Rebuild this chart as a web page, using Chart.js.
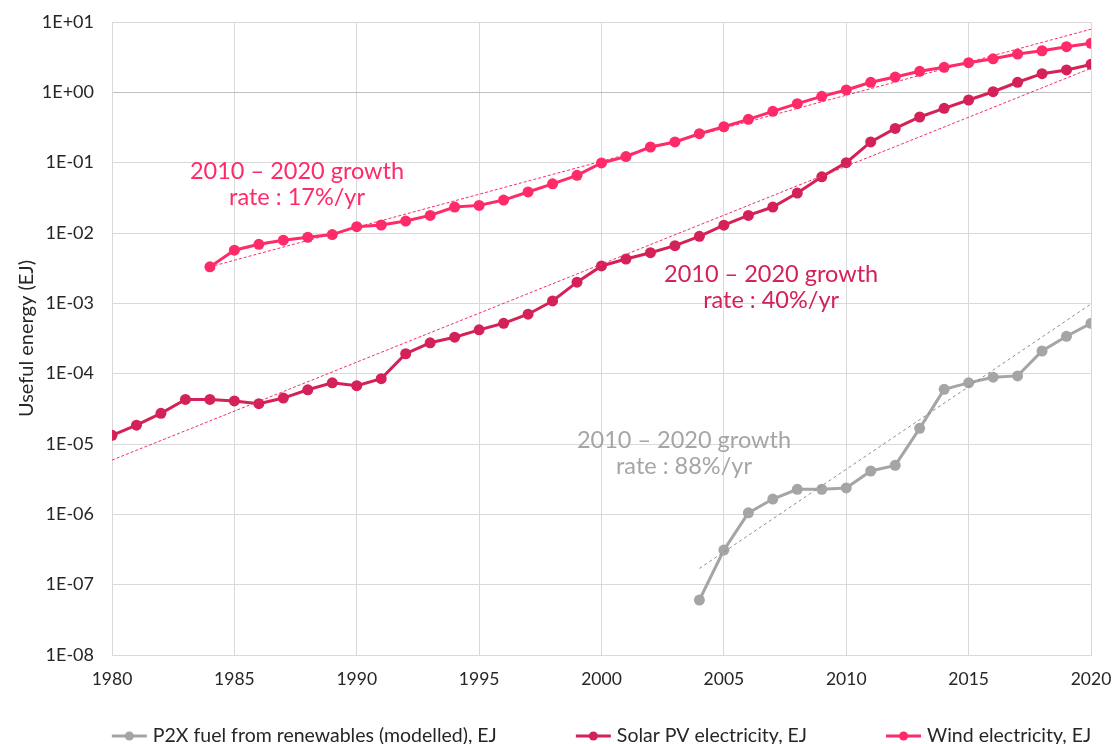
<!DOCTYPE html>
<html>
<head>
<meta charset="utf-8">
<script src="https://cdn.jsdelivr.net/npm/chart.js@4.4.1/dist/chart.umd.min.js"></script>
<style>
  html, body { margin: 0; padding: 0; background: #ffffff; }
  #wrap { width: 1118px; height: 744px; position: relative; }
</style>
</head>
<body>
<div id="wrap"><canvas id="c" width="1118" height="744"></canvas></div>
<script>
// ---------- DATA ----------
const years = [1980,1981,1982,1983,1984,1985,1986,1987,1988,1989,
               1990,1991,1992,1993,1994,1995,1996,1997,1998,1999,
               2000,2001,2002,2003,2004,2005,2006,2007,2008,2009,
               2010,2011,2012,2013,2014,2015,2016,2017,2018,2019,2020];

const p2xValues = [null,null,null,null,null,null,null,null,null,null,
                   null,null,null,null,null,null,null,null,null,null,
                   null,null,null,null,6.05e-8,3.1e-7,1.05e-6,1.65e-6,2.27e-6,2.27e-6,
                   2.37e-6,4.13e-6,4.97e-6,1.67e-5,5.98e-5,7.4e-5,8.9e-5,9.3e-5,2.1e-4,3.4e-4,5.2e-4];

const solarValues = [1.33e-5,1.85e-5,2.73e-5,4.3e-5,4.3e-5,4.1e-5,3.75e-5,4.5e-5,5.9e-5,7.4e-5,
                     6.75e-5,8.5e-5,1.92e-4,2.75e-4,3.3e-4,4.2e-4,5.2e-4,7.0e-4,1.08e-3,2.0e-3,
                     3.4e-3,4.27e-3,5.25e-3,6.6e-3,8.97e-3,1.29e-2,1.78e-2,2.34e-2,3.7e-2,6.3e-2,
                     0.1,0.197,0.307,0.446,0.593,0.778,1.02,1.39,1.84,2.08,2.5];

const windValues = [null,null,null,null,0.0033,0.0057,0.0069,0.0079,0.0087,0.0095,
                    0.0123,0.013,0.0148,0.0178,0.0234,0.0247,0.0294,0.0383,0.050,0.066,
                    0.099,0.122,0.167,0.197,0.258,0.324,0.413,0.537,0.69,0.877,
                    1.08,1.39,1.65,1.99,2.27,2.64,3.0,3.5,3.9,4.45,4.98];

// trend lines (end points)
const p2xTrendYears = [2004, 2020];
const p2xTrendValues = [1.7e-7, 9.8e-4];
const solarTrendYears = [1980, 2020];
const solarTrendValues = [5.9e-6, 2.2];
const windTrendYears = [1984, 2020];
const windTrendValues = [3.3e-3, 7.9];

const seriesNames = ['P2X fuel from renewables (modelled), EJ', 'Solar PV electricity, EJ', 'Wind electricity, EJ'];

const yTickValues = [1e-8,1e-7,1e-6,1e-5,1e-4,1e-3,1e-2,1e-1,1,10];
const yTickLabels = ['1E-08','1E-07','1E-06','1E-05','1E-04','1E-03','1E-02','1E-01','1E+00','1E+01'];
const xTickValues = [1980,1985,1990,1995,2000,2005,2010,2015,2020];

const annotLine1 = ['2010 \u2013 2020 growth', '2010 \u2013 2020 growth', '2010 \u2013 2020 growth'];
const annotLine2 = ['rate : 17%/yr', 'rate : 40%/yr', 'rate : 88%/yr'];
const annotX = [1987.56, 2006.93, 2003.37];
const annotY = [0.0498, 1.7e-3, 7.4e-6];

// ---------- STYLE ----------
const GRAY = '#A5A5A5';
const SOLAR = '#D42157';
const WIND = '#FF2A68';
const annotColors = [WIND, SOLAR, GRAY];
const FONT = 'Lato, "DejaVu Sans", sans-serif';

function toPoints(xs, vs) {
  const out = [];
  for (let i = 0; i < xs.length; i++) {
    if (vs[i] !== null && vs[i] !== undefined) out.push({ x: xs[i], y: vs[i] });
  }
  return out;
}

function mainSeries(label, xs, vs, color) {
  return {
    label: label, data: toPoints(xs, vs),
    borderColor: color, backgroundColor: color,
    borderWidth: 3, pointRadius: 5.5, pointHoverRadius: 5.5,
    pointBorderWidth: 0, tension: 0, legend: true
  };
}
function trendSeries(xs, vs, color, dash) {
  return {
    label: '', data: toPoints(xs, vs),
    borderColor: color, backgroundColor: color,
    borderWidth: 1, pointRadius: 0, borderDash: dash, tension: 0, legend: false
  };
}

const annotPlugin = {
  id: 'annot',
  afterDatasetsDraw(chart) {
    const ctx = chart.ctx;
    const xs = chart.scales.x, ys = chart.scales.y;
    ctx.save();
    ctx.font = '23.5px ' + FONT;
    ctx.textAlign = 'center';
    ctx.textBaseline = 'middle';
    for (let i = 0; i < annotLine1.length; i++) {
      const px = xs.getPixelForValue(annotX[i]);
      const py = ys.getPixelForValue(annotY[i]);
      ctx.fillStyle = annotColors[i];
      ctx.fillText(annotLine1[i], px, py - 13);
      ctx.fillText(annotLine2[i], px, py + 13);
    }
    ctx.restore();
  }
};

const legendPlugin = {
  id: 'customLegend',
  afterDraw(chart) {
    const ctx = chart.ctx;
    const items = chart.data.datasets.filter(d => d.legend);
    ctx.save();
    ctx.font = '19.5px ' + FONT;
    ctx.textBaseline = 'middle';
    ctx.textAlign = 'left';
    const lineLen = 35, gapText = 6, gapItem = 79;
    const widths = items.map(d => lineLen + gapText + ctx.measureText(d.label).width);
    const total = widths.reduce((a, b) => a + b, 0) + gapItem * (items.length - 1);
    const ca = chart.chartArea;
    let x = (ca.left + ca.right) / 2 - total / 2;
    const y = 736;
    items.forEach((d, i) => {
      ctx.strokeStyle = d.borderColor;
      ctx.lineWidth = 3;
      ctx.beginPath(); ctx.moveTo(x, y); ctx.lineTo(x + lineLen, y); ctx.stroke();
      ctx.fillStyle = d.borderColor;
      ctx.beginPath(); ctx.arc(x + lineLen / 2, y, 4.5, 0, Math.PI * 2); ctx.fill();
      ctx.fillStyle = '#262626';
      ctx.fillText(d.label, x + lineLen + gapText, y);
      x += widths[i] + gapItem;
    });
    ctx.restore();
  }
};

new Chart(document.getElementById('c'), {
  type: 'line',
  data: {
    datasets: [
      trendSeries(p2xTrendYears, p2xTrendValues, '#8C8C8C', [3, 3]),
      trendSeries(solarTrendYears, solarTrendValues, '#F0306E', [3, 2]),
      trendSeries(windTrendYears, windTrendValues, WIND, [3, 2]),
      mainSeries(seriesNames[0], years, p2xValues, GRAY),
      mainSeries(seriesNames[1], years, solarValues, SOLAR),
      mainSeries(seriesNames[2], years, windValues, WIND)
    ]
  },
  options: {
    responsive: false,
    animation: false,
    devicePixelRatio: 1,
    layout: { padding: { left: 0, right: 27, top: 22, bottom: 0 } },
    plugins: { legend: { display: false }, tooltip: { enabled: false } },
    scales: {
      x: {
        type: 'linear', min: 1980, max: 2020,
        afterBuildTicks(scale) { scale.ticks = xTickValues.map(v => ({ value: v })); },
        afterFit(scale) { scale.height = 89; scale.paddingLeft = 0; scale.paddingRight = 0; },
        ticks: { color: '#262626', font: { family: FONT, size: 17.5 }, padding: 14,
                 callback: v => String(v), maxRotation: 0, autoSkip: false },
        grid: { color: '#D9D9D9', lineWidth: 1, drawTicks: false },
        border: { color: '#D9D9D9', width: 1 }
      },
      y: {
        type: 'logarithmic', min: 1e-8, max: 10,
        afterBuildTicks(scale) { scale.ticks = yTickValues.map(v => ({ value: v })); },
        afterFit(scale) { scale.width = 112; scale.paddingTop = 0; scale.paddingBottom = 0; },
        ticks: { color: '#262626', font: { family: FONT, size: 18 }, padding: 18, autoSkip: false,
                 callback: function (v) { const i = yTickValues.indexOf(v); return i >= 0 ? yTickLabels[i] : ''; } },
        grid: { color: ctx => (ctx.tick && ctx.tick.value === 1 ? '#BFBFBF' : '#D9D9D9'), lineWidth: 1, drawTicks: false },
        border: { color: '#D9D9D9', width: 1 },
        title: { display: true, text: 'Useful energy (EJ)', color: '#262626',
                 font: { family: FONT, size: 20 }, padding: { top: 15, bottom: 0 } }
      }
    }
  },
  plugins: [annotPlugin, legendPlugin]
});
</script>
</body>
</html>
